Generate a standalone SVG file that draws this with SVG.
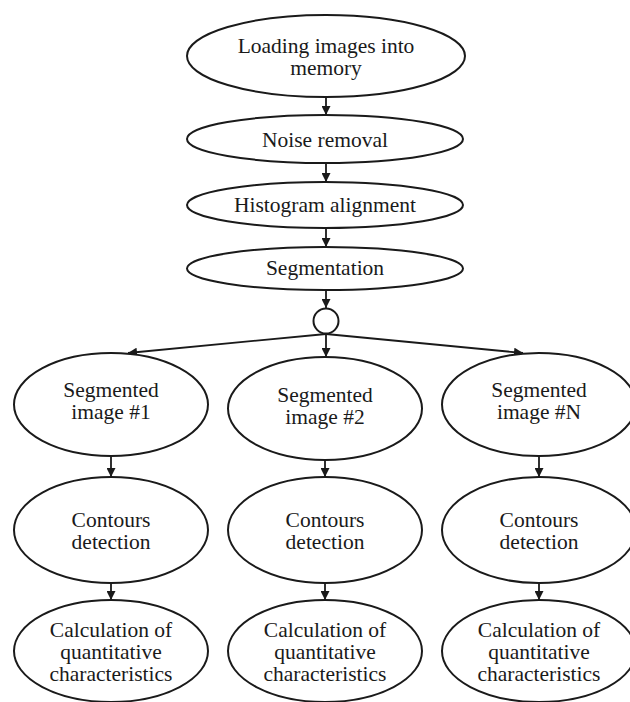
<svg xmlns="http://www.w3.org/2000/svg" width="630" height="702" viewBox="0 0 630 702">
<style>
.n{fill:#fff;stroke:#1a1a1a;stroke-width:2}
.t{font-family:"Liberation Serif","Times New Roman",serif;font-size:21.5px;fill:#1a1a1a;text-anchor:middle}
.c{stroke:#1a1a1a;stroke-width:1.8;fill:none;marker-end:url(#ah)}
</style>
<defs>
<marker id="ah" viewBox="0 0 10 10" refX="10" refY="5" markerWidth="5" markerHeight="5" orient="auto" markerUnits="strokeWidth">
<path d="M0,0 L10,5 L0,10 z" fill="#1a1a1a"/>
</marker>
</defs>
<rect width="630" height="702" fill="#fff"/>
<g id="connectors">
<line class="c" x1="326" y1="97" x2="326" y2="115"/>
<line class="c" x1="326" y1="163" x2="326" y2="182"/>
<line class="c" x1="326" y1="228" x2="326" y2="247"/>
<line class="c" x1="326" y1="290" x2="326" y2="308"/>
<line class="c" x1="326" y1="334" x2="128" y2="353"/>
<line class="c" x1="326" y1="334" x2="326" y2="357"/>
<line class="c" x1="326" y1="334" x2="523" y2="353"/>
<line class="c" x1="111" y1="456" x2="111" y2="477"/>
<line class="c" x1="325" y1="460" x2="325" y2="477"/>
<line class="c" x1="539" y1="456" x2="539" y2="477"/>
<line class="c" x1="111" y1="583" x2="111" y2="600"/>
<line class="c" x1="325" y1="583" x2="325" y2="600"/>
<line class="c" x1="539" y1="583" x2="539" y2="600"/>
</g>
<g id="load"><ellipse class="n" cx="326" cy="56" rx="139" ry="41"/><text class="t" x="326" y="53">Loading images into</text><text class="t" x="326" y="75">memory</text></g>
<g id="noise"><ellipse class="n" cx="325" cy="139" rx="138" ry="24"/><text class="t" x="325" y="147">Noise removal</text></g>
<g id="hist"><ellipse class="n" cx="325" cy="205" rx="138" ry="23"/><text class="t" x="325" y="212">Histogram alignment</text></g>
<g id="seg"><ellipse class="n" cx="325" cy="268.5" rx="138" ry="21.5"/><text class="t" x="325" y="275">Segmentation</text></g>
<g id="junction"><circle class="n" cx="326" cy="321" r="12.5"/></g>
<g id="seg1"><ellipse class="n" cx="111" cy="404.5" rx="97" ry="51.5"/><text class="t" x="111" y="397">Segmented</text><text class="t" x="111" y="419">image #1</text></g>
<g id="seg2"><ellipse class="n" cx="325" cy="408.5" rx="97" ry="51.5"/><text class="t" x="325" y="402">Segmented</text><text class="t" x="325" y="424">image #2</text></g>
<g id="segN"><ellipse class="n" cx="539" cy="404.5" rx="97" ry="51.5"/><text class="t" x="539" y="397">Segmented</text><text class="t" x="539" y="419">image #N</text></g>
<g id="cont1"><ellipse class="n" cx="111" cy="530" rx="97" ry="53"/><text class="t" x="111" y="527">Contours</text><text class="t" x="111" y="549">detection</text></g>
<g id="cont2"><ellipse class="n" cx="325" cy="530" rx="97" ry="53"/><text class="t" x="325" y="527">Contours</text><text class="t" x="325" y="549">detection</text></g>
<g id="contN"><ellipse class="n" cx="539" cy="530" rx="97" ry="53"/><text class="t" x="539" y="527">Contours</text><text class="t" x="539" y="549">detection</text></g>
<g id="calc1"><ellipse class="n" cx="111" cy="651" rx="97" ry="51"/><text class="t" x="111" y="637">Calculation of</text><text class="t" x="111" y="659">quantitative</text><text class="t" x="111" y="681">characteristics</text></g>
<g id="calc2"><ellipse class="n" cx="325" cy="651" rx="97" ry="51"/><text class="t" x="325" y="637">Calculation of</text><text class="t" x="325" y="659">quantitative</text><text class="t" x="325" y="681">characteristics</text></g>
<g id="calcN"><ellipse class="n" cx="539" cy="651" rx="97" ry="51"/><text class="t" x="539" y="637">Calculation of</text><text class="t" x="539" y="659">quantitative</text><text class="t" x="539" y="681">characteristics</text></g>
</svg>
